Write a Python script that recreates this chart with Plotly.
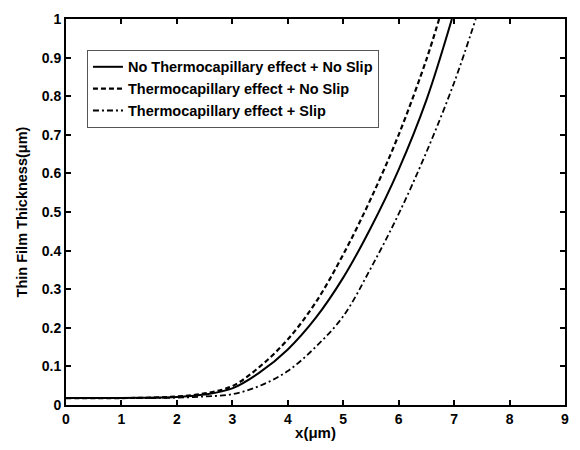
import plotly.graph_objects as go

# Data
x_solid = [0, 1, 1.5, 2, 2.5, 3, 3.5, 4, 4.5, 5, 5.5, 6, 6.5, 6.96]
y_solid = [0.018, 0.018, 0.019, 0.021, 0.027, 0.043, 0.085, 0.144, 0.225, 0.33, 0.46, 0.61, 0.79, 1.0]

x_dash = [0, 1, 1.5, 2, 2.5, 3, 3.5, 4, 4.5, 5, 5.5, 6, 6.5, 6.73]
y_dash = [0.018, 0.018, 0.019, 0.022, 0.03, 0.049, 0.1, 0.17, 0.265, 0.39, 0.535, 0.70, 0.895, 1.0]

x_dd = [0, 1, 1.5, 2, 2.5, 3, 3.5, 4, 4.5, 5, 5.5, 6, 6.5, 7, 7.39]
y_dd = [0.018, 0.018, 0.018, 0.019, 0.022, 0.028, 0.05, 0.088, 0.15, 0.23, 0.355, 0.495, 0.655, 0.835, 1.0]

names = ["No Thermocapillary effect + No Slip",
         "Thermocapillary effect + No Slip",
         "Thermocapillary effect + Slip"]

x_ticks = list(range(0, 10))
x_ticklabels = [str(v) for v in x_ticks]
y_ticks = [0, 0.1, 0.2, 0.3, 0.4, 0.5, 0.6, 0.7, 0.8, 0.9, 1]
y_ticklabels = ["0", "0.1", "0.2", "0.3", "0.4", "0.5", "0.6", "0.7", "0.8", "0.9", "1"]

FAM = "Liberation Sans, Arial"

def b(s):
    return "<b>" + s + "</b>"

fig = go.Figure()
fig.add_trace(go.Scatter(x=x_solid, y=y_solid, mode="lines", name=b(names[0]),
                         line=dict(color="black", width=2, shape="spline", smoothing=1.0)))
fig.add_trace(go.Scatter(x=x_dash, y=y_dash, mode="lines", name=b(names[1]),
                         line=dict(color="black", width=2.2, dash="5px,3px", shape="spline", smoothing=1.0)))
fig.add_trace(go.Scatter(x=x_dd, y=y_dd, mode="lines", name=b(names[2]),
                         line=dict(color="black", width=1.8, dash="6px,3px,2px,3px", shape="spline", smoothing=1.0)))

fig.update_layout(
    width=580, height=450,
    margin=dict(l=66, r=11, t=14, b=40),
    paper_bgcolor="white", plot_bgcolor="white",
    font=dict(family=FAM, size=14, color="black"),
    legend=dict(x=0.042, y=0.92, xanchor="left", yanchor="top",
                bgcolor="white", bordercolor="#555", borderwidth=1,
                font=dict(family=FAM, size=14.5, color="black"),
                tracegroupgap=0, itemwidth=30),
    xaxis=dict(range=[0, 9], tickvals=x_ticks, ticktext=[b(t) for t in x_ticklabels],
               ticks="inside", ticklen=5, tickwidth=2,
               tickcolor="black", showline=True, linecolor="black", linewidth=2, mirror="ticks",
               showgrid=False, zeroline=False,
               tickfont=dict(family=FAM, size=14, color="black"),
               title=dict(text=b("x(μm)"), standoff=2,
                          font=dict(family=FAM, size=15, color="black"))),
    yaxis=dict(range=[0, 1], tickvals=y_ticks, ticktext=[b(t) for t in y_ticklabels],
               ticks="inside", ticklen=5, tickwidth=2,
               tickcolor="black", showline=True, linecolor="black", linewidth=2, mirror="ticks",
               showgrid=False, zeroline=False,
               tickfont=dict(family=FAM, size=14, color="black"),
               title=dict(text=b("Thin Film Thickness(μm)"), standoff=11,
                          font=dict(family=FAM, size=14.5, color="black"))),
)

fig.write_html("out.html")
